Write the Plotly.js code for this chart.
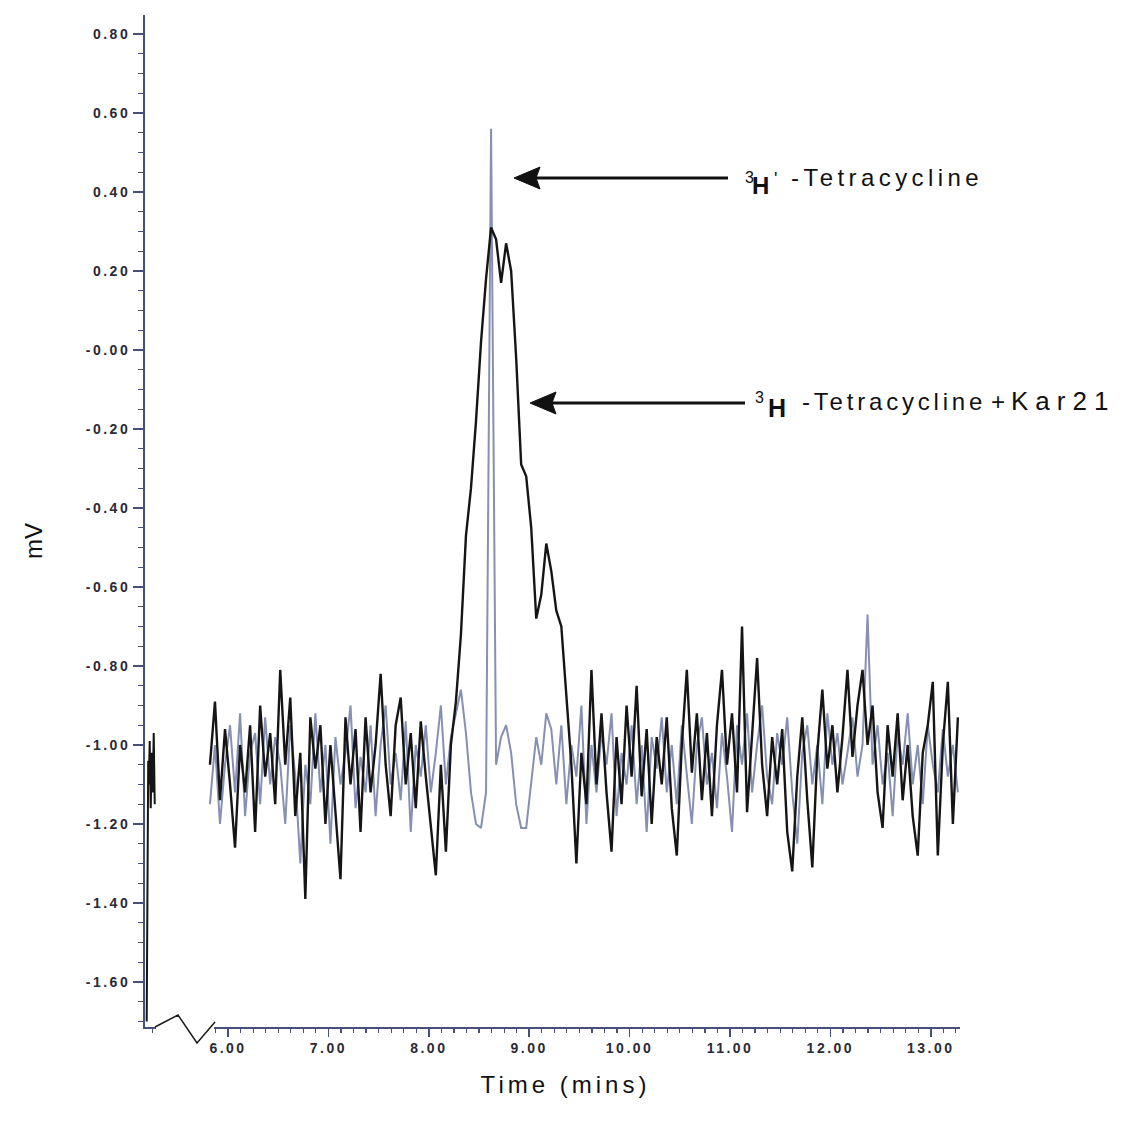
<!DOCTYPE html>
<html><head><meta charset="utf-8">
<script src="https://cdn.plot.ly/plotly-3.0.1.min.js"></script>
<style>
html,body{margin:0;padding:0;background:#fff;}
#chart{width:1129px;height:1127px;}
.xtick text,.ytick text{letter-spacing:2.5px;}
.g-xtitle text{letter-spacing:4px;}
.g-xtitle{transform:translateX(13px);}
.g-ytitle{transform:translateY(20px);}
/* wide-tracked label text (selected by its fill colour so that measuring sees it too) */
text.annotation-text[style*="rgb(17, 17, 18)"]{letter-spacing:4.4px;}
text.annotation-text[style*="rgb(17, 17, 19)"]{letter-spacing:3.8px;}
text.annotation-text[style*="rgb(17, 17, 20)"]{letter-spacing:7px;}
</style></head><body><div id="chart"></div>
<script>
// Retention time (min) of the recorded points after the axis break
const time = [
5.82,5.87,5.92,5.97,6.02,6.07,6.12,6.17,6.22,6.27,
6.32,6.37,6.42,6.47,6.52,6.57,6.62,6.67,6.72,6.77,
6.82,6.87,6.92,6.97,7.02,7.07,7.12,7.17,7.22,7.27,
7.32,7.37,7.42,7.47,7.52,7.57,7.62,7.67,7.72,7.77,
7.82,7.87,7.92,7.97,8.02,8.07,8.12,8.17,8.22,8.27,
8.32,8.37,8.42,8.47,8.52,8.57,8.62,8.67,8.72,8.77,
8.82,8.87,8.92,8.97,9.02,9.07,9.12,9.17,9.22,9.27,
9.32,9.37,9.42,9.47,9.52,9.57,9.62,9.67,9.72,9.77,
9.82,9.87,9.92,9.97,10.02,10.07,10.12,10.17,10.22,10.27,
10.32,10.37,10.42,10.47,10.52,10.57,10.62,10.67,10.72,10.77,
10.82,10.87,10.92,10.97,11.02,11.07,11.12,11.17,11.22,11.27,
11.32,11.37,11.42,11.47,11.52,11.57,11.62,11.67,11.72,11.77,
11.82,11.87,11.92,11.97,12.02,12.07,12.12,12.17,12.22,12.27,
12.32,12.37,12.42,12.47,12.52,12.57,12.62,12.67,12.72,12.77,
12.82,12.87,12.92,12.97,13.02,13.07,13.12,13.17,13.22,13.27];

// 3H-Tetracycline + Kar21 (dark trace), mV
const signalKar21 = [
-1.05,-0.89,-1.14,-0.96,-1.10,-1.26,-1.00,-1.12,-0.95,-1.22,
-0.90,-1.08,-0.97,-1.15,-0.81,-1.05,-0.88,-1.18,-1.02,-1.39,
-0.93,-1.06,-0.95,-1.20,-1.00,-1.17,-1.34,-0.93,-1.10,-0.96,
-1.22,-0.93,-1.12,-1.00,-0.82,-1.05,-1.18,-0.95,-0.88,-1.10,
-0.97,-1.16,-0.94,-1.08,-1.20,-1.33,-1.05,-1.27,-1.00,-0.89,
-0.72,-0.47,-0.35,-0.18,0.02,0.18,0.31,0.28,0.17,0.27,
0.20,-0.02,-0.29,-0.32,-0.45,-0.68,-0.62,-0.49,-0.56,-0.66,
-0.70,-0.88,-1.05,-1.30,-1.02,-1.15,-0.81,-1.10,-0.92,-1.12,
-1.27,-0.98,-1.15,-0.90,-1.08,-0.85,-1.13,-0.96,-1.20,-0.98,
-1.10,-0.93,-1.16,-1.28,-1.00,-0.81,-1.07,-0.92,-1.14,-0.97,
-1.18,-0.95,-0.81,-1.05,-0.92,-1.12,-0.70,-1.17,-0.96,-0.78,
-1.05,-1.18,-0.98,-1.10,-0.96,-1.22,-1.32,-1.08,-0.93,-1.14,
-1.31,-1.02,-0.86,-1.06,-0.95,-1.12,-0.98,-0.81,-1.03,-0.90,
-0.81,-1.00,-0.90,-1.12,-1.21,-0.95,-1.08,-0.92,-1.14,-1.00,
-1.18,-1.28,-1.02,-0.95,-0.84,-1.28,-1.00,-0.84,-1.20,-0.93];

// 3H-Tetracycline (light trace), mV
const signalTetracycline = [
-1.15,-1.00,-1.20,-1.05,-0.95,-1.12,-0.92,-1.18,-1.02,-0.97,
-1.15,-0.93,-1.10,-0.98,-1.05,-1.20,-0.95,-1.08,-1.30,-1.05,
-1.15,-0.92,-1.12,-1.00,-1.25,-0.98,-1.10,-1.02,-0.90,-1.16,
-1.03,-1.12,-0.95,-1.18,-1.00,-0.90,-1.10,-1.02,-1.14,-0.94,
-1.22,-1.00,-1.08,-0.95,-1.12,-1.02,-0.90,-1.10,-0.98,-0.92,
-0.86,-0.97,-1.12,-1.20,-1.21,-1.12,0.56,-1.05,-0.98,-0.95,
-1.02,-1.15,-1.21,-1.21,-1.10,-0.98,-1.05,-0.92,-0.96,-1.10,
-0.95,-1.15,-1.00,-1.08,-0.90,-1.20,-1.00,-1.12,-0.97,-1.05,
-0.92,-1.18,-1.02,-1.10,-0.95,-1.15,-1.00,-1.22,-0.98,-1.06,
-0.93,-1.12,-1.00,-1.15,-0.95,-1.08,-1.20,-1.00,-0.93,-1.10,
-1.02,-1.16,-0.97,-1.08,-1.22,-0.95,-1.05,-0.92,-1.12,-1.00,
-0.90,-1.08,-1.15,-0.97,-1.05,-0.93,-1.12,-1.25,-1.02,-0.95,
-1.10,-1.00,-1.15,-0.92,-1.05,-0.97,-1.10,-1.02,-0.93,-1.08,
-1.00,-0.67,-1.05,-0.95,-1.10,-1.02,-1.18,-0.97,-1.05,-0.92,
-1.10,-1.00,-1.15,-0.95,-1.05,-1.12,-0.96,-1.08,-1.00,-1.12];

// Short segment recorded before the axis break
const preBreakTime = [5.19,5.195,5.20,5.205,5.21,5.22,5.23,5.24,5.25,5.26,5.27];
const preBreakSignal = [-1.70,-1.45,-1.20,-1.04,-1.10,-0.99,-1.16,-1.02,-1.12,-0.97,-1.15];

const yTickValues = [0.8,0.6,0.4,0.2,0,-0.2,-0.4,-0.6,-0.8,-1.0,-1.2,-1.4,-1.6];
const yTickLabels = ["0.80","0.60","0.40","0.20","-0.00","-0.20","-0.40","-0.60","-0.80","-1.00","-1.20","-1.40","-1.60"];
const xTickValues = [6,7,8,9,10,11,12,13];
const xTickLabels = ["6.00","7.00","8.00","9.00","10.00","11.00","12.00","13.00"];

// label pieces: mass number, element, mark, compound text
const massNumber = "3";
const element = "H";
const primeMark = "'";
const labelTetracycline = "-Tetracycline";
const labelKar21a = "-Tetracycline";
const labelPlus = "+";
const labelKar21b = "Kar21";

// layout geometry (pixels -> paper)
const L = 145, R = 960, T = 15, B = 1027;
const px = v => (v - L) / (R - L);
const py = v => (B - v) / (B - T);

const traces = [
  {x: time, y: signalTetracycline, type: 'scatter', mode: 'lines', name: '3H-Tetracycline',
   line: {color: '#8590b2', width: 2}, showlegend: false},
  {x: time, y: signalKar21, type: 'scatter', mode: 'lines', name: '3H-Tetracycline + Kar21',
   line: {color: '#151515', width: 2.4}, showlegend: false},
  {x: preBreakTime, y: preBreakSignal, type: 'scatter', mode: 'lines', name: 'pre-break',
   line: {color: '#151515', width: 2}, showlegend: false}
];

const FAM = 'Liberation Sans, Arial, sans-serif';
const tickFont = {family: FAM, size: 14, color: '#2a2a35', weight: 'bold'};
const axisColor = '#46507a';

function arrowShapes(tipX, tailX, yPix) {
  return [
    {type: 'line', xref: 'paper', yref: 'paper', x0: px(tipX + 20), x1: px(tailX), y0: py(yPix), y1: py(yPix),
     line: {color: '#111', width: 3}},
    {type: 'path', xref: 'paper', yref: 'paper',
     path: `M ${px(tipX)},${py(yPix)} L ${px(tipX + 26)},${py(yPix - 11)} L ${px(tipX + 22)},${py(yPix)} L ${px(tipX + 26)},${py(yPix + 11)} Z`,
     fillcolor: '#111', line: {color: '#111', width: 1}}
  ];
}

function label(text, xPix, yPix, size, color, weight) {
  return {xref: 'paper', yref: 'paper', x: px(xPix), y: py(yPix), xanchor: 'left', yanchor: 'middle',
    text: text, showarrow: false, font: {family: FAM, size: size, color: color, weight: weight || 'normal'}};
}

const layout = {
  width: 1129, height: 1127,
  margin: {l: L, r: 1129 - R, t: T, b: 1127 - B},
  paper_bgcolor: '#ffffff', plot_bgcolor: '#ffffff',
  showlegend: false,
  xaxis: {
    range: [5.173, 13.291], showgrid: false, zeroline: false,
    showline: true, linecolor: axisColor, linewidth: 1.5,
    ticks: 'outside', ticklen: 8, tickwidth: 1.5, tickcolor: axisColor,
    tickmode: 'array', tickvals: xTickValues, ticktext: xTickLabels,
    tickfont: tickFont,
    minor: {ticks: 'outside', ticklen: 4, tickwidth: 1.2, tickcolor: axisColor, dtick: 0.125, tick0: 6, showgrid: false},
    title: {text: 'Time (mins)', font: {family: FAM, size: 24, color: '#111'}, standoff: 21}
  },
  yaxis: {
    range: [-1.714, 0.848], showgrid: false, zeroline: false,
    showline: true, linecolor: axisColor, linewidth: 2,
    ticks: 'outside', ticklen: 10, tickwidth: 1.5, tickcolor: axisColor,
    tickmode: 'array', tickvals: yTickValues, ticktext: yTickLabels,
    tickfont: tickFont,
    minor: {ticks: 'outside', ticklen: 5, tickwidth: 1.2, tickcolor: axisColor, dtick: 0.05, tick0: 0, showgrid: false},
    title: {text: 'mV', font: {family: FAM, size: 24, color: '#111'}, standoff: 36}
  },
  shapes: [
    // gap in the time axis (break)
    {type: 'rect', xref: 'paper', yref: 'paper', x0: px(156), x1: px(214), y0: -0.014, y1: 0.004,
     fillcolor: '#ffffff', line: {width: 0}, layer: 'above'},
    // zig-zag break marker
    {type: 'path', xref: 'paper', yref: 'paper',
     path: `M ${px(155)},${py(1027)} L ${px(178)},${py(1015)} L ${px(197)},${py(1043)} L ${px(215)},${py(1022)}`,
     line: {color: '#1a1a1a', width: 1.5}, layer: 'above'},
    ...arrowShapes(514, 728, 178),
    ...arrowShapes(530, 745, 403)
  ],
  annotations: [
    // first label: 3H'-Tetracycline
    label(massNumber, 743, 178, 16, '#111111'),
    label(element, 750, 185, 24, '#111111', 'bold'),
    label(primeMark, 772, 179, 18, '#111111'),
    label(labelTetracycline, 789, 178, 24, '#111112'),
    // second label: 3H -Tetracycline + Kar21
    label(massNumber, 753, 397, 16, '#111111'),
    label(element, 766, 408, 25, '#111111', 'bold'),
    label(labelKar21a, 800, 401, 24, '#111113'),
    label(labelPlus, 989, 401, 24, '#111111'),
    label(labelKar21b, 1009, 401, 26, '#111114')
  ]
};

Plotly.newPlot('chart', traces, layout, {displayModeBar: false, staticPlot: true});
</script></body></html>
